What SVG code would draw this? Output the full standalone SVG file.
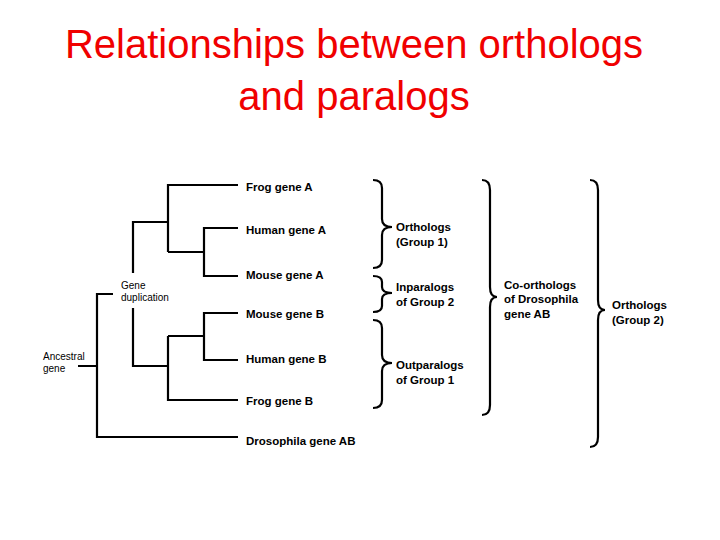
<svg xmlns="http://www.w3.org/2000/svg" width="720" height="540" viewBox="0 0 720 540">
<style>
.t{font-family:"Liberation Sans",Arial,sans-serif;font-size:40px;fill:#f00000;text-anchor:middle}
.b{font-family:"Liberation Sans",Arial,sans-serif;font-size:11.5px;font-weight:bold;fill:#000}
.s{font-family:"Liberation Sans",Arial,sans-serif;font-size:10px;fill:#000}
.l{fill:none;stroke:#000;stroke-width:2.2}
</style>
<rect width="720" height="540" fill="#fff"/>
<g id="title"><text class="t" x="354" y="58">Relationships between orthologs</text><text class="t" x="354" y="110">and paralogs</text></g>
<g id="connectors">
<path class="l" d="M238 185H168V252M168 252H204M238 228H204V276H238M133 273V222H168M133 308V366H168M238 313H204V360H238M168 336H204M168 336V400H238M78 366H97M113 294H97V437H238"/>
<path class="l" d="M373 180Q382 180 382 188V219Q382 227 392 227Q382 227 382 235V260Q382 268 373 268"/>
<path class="l" d="M373 276Q382 276 382 282V287Q382 293 392 293Q382 293 382 299V306Q382 312 373 312"/>
<path class="l" d="M373 320Q382 320 382 328V355Q382 363 392 363Q382 363 382 371V400Q382 408 373 408"/>
<path class="l" d="M482 180Q490 180 490 190V287Q490 297 497 297Q490 297 490 307V405Q490 415 482 415"/>
<path class="l" d="M590 180Q598 180 598 190V300Q598 310 605 310Q598 310 598 320V437Q598 447 590 447"/>
</g>
<g id="labels">
<text class="b" x="246" y="191">Frog gene A</text>
<text class="b" x="246" y="234">Human gene A</text>
<text class="b" x="246" y="279">Mouse gene A</text>
<text class="b" x="246" y="318">Mouse gene B</text>
<text class="b" x="246" y="363">Human gene B</text>
<text class="b" x="246" y="405">Frog gene B</text>
<text class="b" x="246" y="445">Drosophila gene AB</text>
<text class="s" x="121" y="289">Gene</text><text class="s" x="121" y="301">duplication</text>
<text class="s" x="43" y="360">Ancestral</text><text class="s" x="43" y="372">gene</text>
<text class="b" x="396" y="231">Orthologs</text><text class="b" x="396" y="246">(Group 1)</text>
<text class="b" x="396" y="291">Inparalogs</text><text class="b" x="396" y="306">of Group 2</text>
<text class="b" x="396" y="369">Outparalogs</text><text class="b" x="396" y="384">of Group 1</text>
<text class="b" x="504" y="289">Co-orthologs</text><text class="b" x="504" y="303">of Drosophila</text><text class="b" x="504" y="318">gene AB</text>
<text class="b" x="612" y="309">Orthologs</text><text class="b" x="612" y="324">(Group 2)</text>
</g>
</svg>
